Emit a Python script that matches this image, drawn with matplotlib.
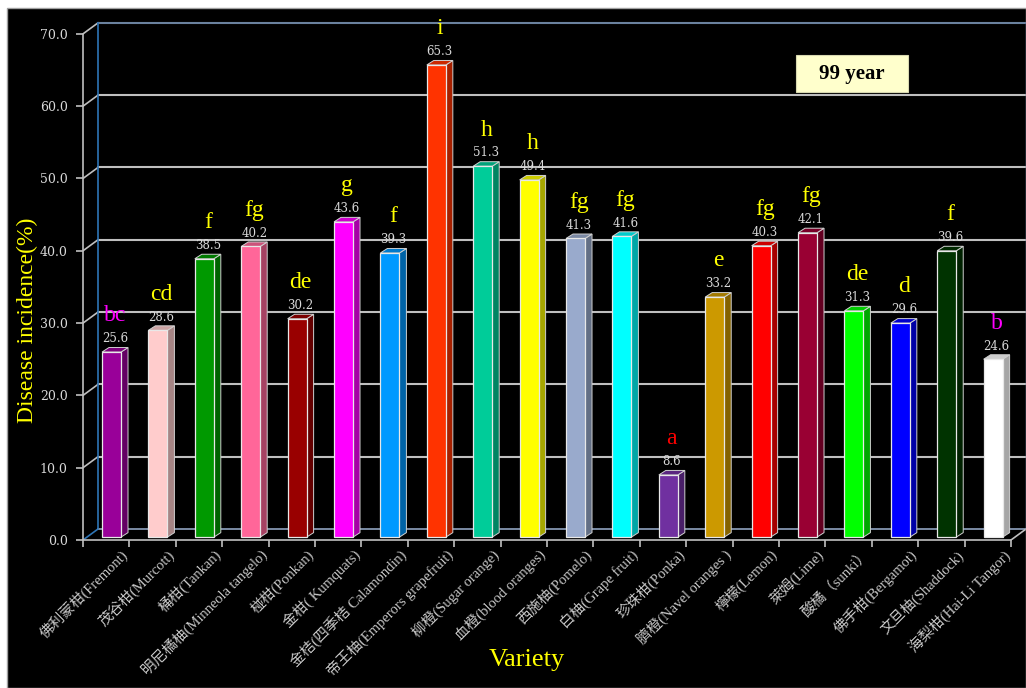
import numpy as np
import matplotlib.pyplot as plt
from matplotlib.patches import Rectangle, Polygon
from matplotlib import colors as mcolors

# data: disease incidence of citrus varieties (99 year)
varieties = ['佛利蒙柑(Fremont)', '茂谷柑(Murcott)', '桶柑(Tankan)', '明尼橘柚(Minneola tangelo)',
             '椪柑(Ponkan)', '金柑( Kumquats)', '金桔(四季桔 Calamondin)', '帝王柚(Emperors grapefruit)',
             '柳橙(Sugar orange)', '血橙(blood oranges)', '西施柚(Pomelo)', '白柚(Grape fruit)',
             '珍珠柑(Ponka)', '臍橙(Navel oranges )', '檸檬(Lemon)', '萊姆(Lime)', '酸橘（sunki）',
             '佛手柑(Bergamot)', '文旦柚(Shaddock)', '海梨柑(Hai-Li Tangor)']
incidence = [25.6, 28.6, 38.5, 40.2, 30.2, 43.6, 39.3, 65.3, 51.3, 49.4,
             41.3, 41.6, 8.6, 33.2, 40.3, 42.1, 31.3, 29.6, 39.6, 24.6]
groups = ['bc', 'cd', 'f', 'fg', 'de', 'g', 'f', 'i', 'h', 'h',
          'fg', 'fg', 'a', 'e', 'fg', 'fg', 'de', 'd', 'f', 'b']
y_ticks = [0, 10, 20, 30, 40, 50, 60, 70]

bar_colors = ['#990099', '#FFCCCC', '#009900', '#FF6699', '#990000', '#FF00FF', '#0099FF',
              '#FF3300', '#00CC99', '#FFFF00', '#99AACC', '#00FFFF', '#7030A0', '#CC9900',
              '#FF0000', '#990033', '#00FF00', '#0000FF', '#003300', '#FFFFFF']
group_colors = {'bc': '#FF00FF', 'b': '#FF00FF', 'a': '#FF0000'}

plt.rcParams['font.family'] = ['Liberation Serif', 'Noto Sans CJK TC']

W, H = 1026, 688
fig = plt.figure(figsize=(W / 100, H / 100), dpi=100)
fig.patch.set_facecolor('white')
fig.add_artist(Rectangle((7 / W, 0), 1 - 7 / W, (H - 8) / H, transform=fig.transFigure,
                         facecolor='black', edgecolor='#a0a0a0', lw=1, zorder=-10))

# wall depth offsets (in data units) for the fake 3d look
dxw, dyw = 0.323, 1.52
ax = fig.add_axes([83 / W, (H - 540) / H, (W - 83) / W, 520.6 / H])
ax.set_facecolor('none')
ax.set_xlim(-0.5, 19.5 + dxw)
ax.set_ylim(0, 72)

n = len(incidence)
x0, x1 = -0.5, n - 0.5

# back wall grid
for v in y_ticks:
    if v == 0:
        ax.plot([x0, x0 + dxw], [0, dyw], color='#2E75B6', lw=1.2, zorder=1)
        ax.plot([x0 + dxw, x1 + dxw], [dyw, dyw], color='#8FA3C0', lw=1.2, zorder=1)
        ax.plot([x1, x1 + dxw], [0, dyw], color='#BFBFBF', lw=1.2, zorder=1)
        continue
    gc = '#6A819E' if v == 70 else '#BFBFBF'
    ax.plot([x0, x0 + dxw], [v, v + dyw], color='#BFBFBF', lw=1.2, zorder=1)
    ax.plot([x0 + dxw, x1 + dxw], [v + dyw, v + dyw], color=gc, lw=1.5, zorder=1)
ax.plot([x0 + dxw, x0 + dxw], [dyw, 70 + dyw], color='#2E75B6', lw=1.2, zorder=1)
ax.plot([x1 + dxw, x1 + dxw], [dyw, 70 + dyw], color='#1F3F66', lw=1, zorder=1)

# bars: front face, side and top
fx, fw, base = 0.41, 0.41, 0.4
dxb, dyb = 0.15, 0.62
for i, (v, c) in enumerate(zip(incidence, bar_colors)):
    rgb = np.array(mcolors.to_rgb(c))
    left = i - 0.5 + fx
    right = left + fw
    top = v + base
    front = [(left, base), (right, base), (right, top), (left, top)]
    side = [(right, base), (right + dxb, base + dyb), (right + dxb, top + dyb), (right, top)]
    lid = [(left, top), (right, top), (right + dxb, top + dyb), (left + dxb, top + dyb)]
    ax.add_patch(Polygon(side, closed=True, facecolor=rgb * 0.65, edgecolor='#d0d0d0', lw=0.7, zorder=3))
    ax.add_patch(Polygon(lid, closed=True, facecolor=rgb * 0.8, edgecolor='#d0d0d0', lw=0.7, zorder=3))
    ax.add_patch(Polygon(front, closed=True, facecolor=rgb, edgecolor='#e8e8e8', lw=0.9, zorder=4))

    cx = left + fw / 2 + dxb / 2
    ax.annotate(f'{v:.1f}', (cx, top), xytext=(0, 9.5), textcoords='offset points',
                ha='center', va='center', color='#D9D9D9', fontsize=8.5,
                family=['DejaVu Serif'], zorder=5)
    g = groups[i]
    ax.annotate(g, (cx, top), xytext=(0, 26), textcoords='offset points',
                ha='center', va='center', color=group_colors.get(g, '#FFFF00'),
                fontsize=17, zorder=5)

# axes: front y axis and floor edge
for s in ['top', 'right']:
    ax.spines[s].set_visible(False)
ax.spines['left'].set_bounds(0, 70)
ax.spines['bottom'].set_bounds(x0, x1)
ax.spines['left'].set_color('#BFBFBF')
ax.spines['bottom'].set_color('#BFBFBF')
ax.spines['left'].set_linewidth(1.2)
ax.spines['bottom'].set_linewidth(1.2)

ax.set_yticks(y_ticks, [f'{t:.1f}' for t in y_ticks])
ax.tick_params(axis='y', colors='#BFBFBF', labelcolor='#D9D9D9', length=5, width=1.2,
               pad=6, labelsize=9)
for lab in ax.get_yticklabels():
    lab.set_family(['DejaVu Serif'])

ax.set_xticks(np.arange(x0, x1 + 0.1, 1.0), [''] * (n + 1))
ax.tick_params(axis='x', which='major', colors='#BFBFBF', length=5, width=1.2)
ax.set_xticks(np.arange(n) + 0.3, varieties, minor=True)
ax.tick_params(axis='x', which='minor', length=0, pad=5, labelcolor='#C8C8C8', labelsize=10.5)
for lab in ax.get_xticklabels(minor=True):
    lab.set_rotation(45)
    lab.set_ha('right')
    lab.set_va('top')
    lab.set_rotation_mode('anchor')

fig.text(27 / W, 1 - 320 / H, 'Disease incidence(%)', rotation=90, color='#FFFF00',
         fontsize=17, ha='center', va='center')
fig.text(527 / W, 1 - 660 / H, 'Variety', color='#FFFF00', fontsize=19,
         ha='center', va='center')

# year tag
ax.add_patch(Rectangle((14.87, 61.9), 2.41, 5.2, facecolor='#FFFFCC', edgecolor='#d8d8b0',
                       lw=0.8, zorder=5))
ax.text(14.87 + 2.41 / 2, 61.9 + 2.6, '99 year', ha='center', va='center',
        fontsize=15, fontweight='bold', color='black', zorder=6)

fig.savefig('out.png', dpi=100, facecolor=fig.get_facecolor())
